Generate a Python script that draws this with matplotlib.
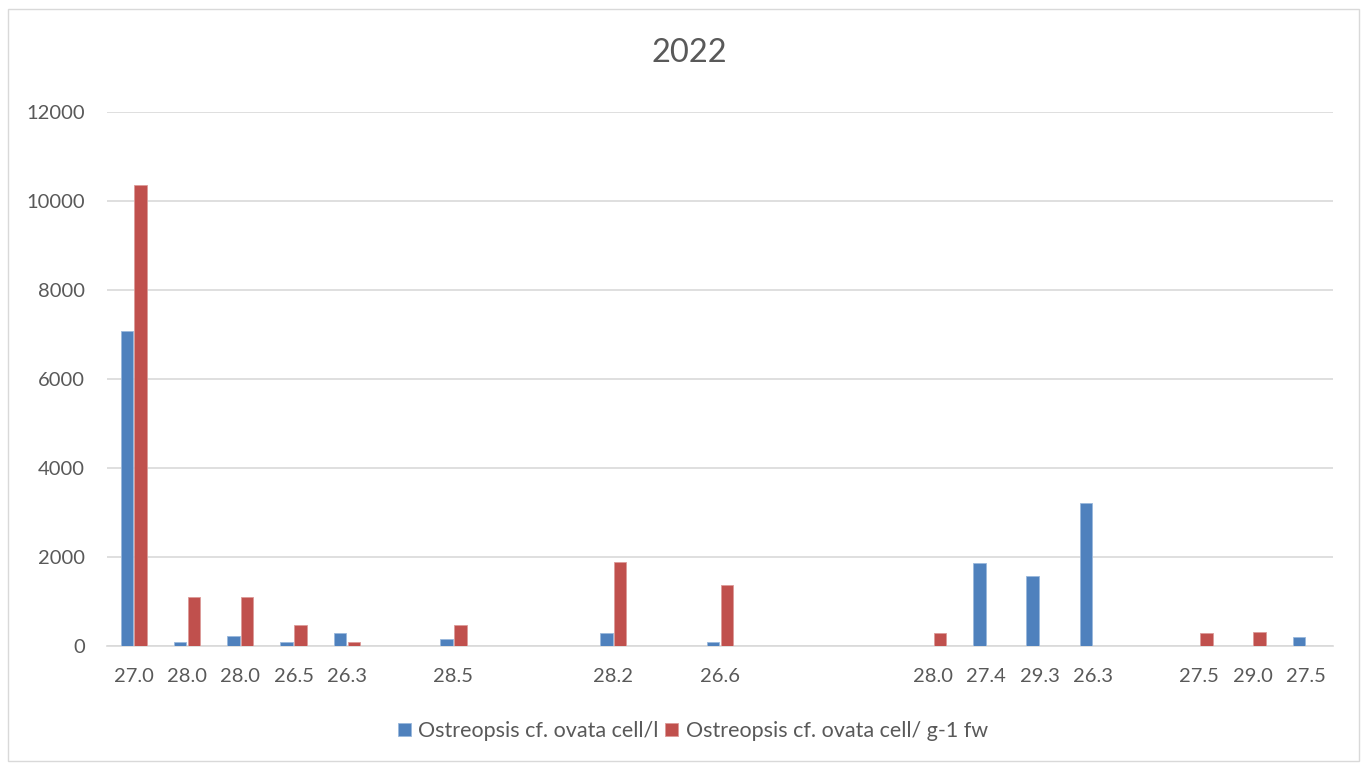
import numpy as np
import matplotlib
matplotlib.use("Agg")
import matplotlib.pyplot as plt
from matplotlib.patches import Rectangle

plt.rcParams['font.family'] = ['Lato', 'DejaVu Sans']

# categories (temperature labels); blank ones have no data
labels = ["27.0", "28.0", "28.0", "26.5", "26.3", "", "28.5", "", "", "28.2", "",
          "26.6", "", "", "", "28.0", "27.4", "29.3", "26.3", "", "27.5", "29.0", "27.5"]
cells_l = [7080, 100, 225, 100, 290, 0, 150, 0, 0, 290, 0,
           100, 0, 0, 0, 0, 1865, 1575, 3210, 0, 0, 0, 200]
cells_g = [10360, 1100, 1100, 470, 100, 0, 470, 0, 0, 1890, 0,
           1370, 0, 0, 0, 290, 0, 0, 0, 0, 290, 315, 0]

blue = "#4F81BD"
red = "#C0504D"
txt = "#595959"

fig = plt.figure(figsize=(13.64, 7.64), dpi=100)
ax = fig.add_axes([0.0785, 0.1545, 0.8985, 0.699])

x = np.arange(len(labels))
w = 0.235
ax.bar(x - 0.13, cells_l, w, color=blue, edgecolor="#9ab8dc", linewidth=0.6,
       label="Ostreopsis cf. ovata cell/l", zorder=3)
ax.bar(x + 0.13, cells_g, w, color=red, edgecolor="#dc9a98", linewidth=0.6,
       label="Ostreopsis cf. ovata cell/ g-1 fw", zorder=3)

ax.set_xlim(-0.5, len(labels) - 0.5)
ax.set_ylim(0, 12000)
ax.set_yticks(np.arange(0, 12001, 2000))
ax.set_xticks(x)
ax.set_xticklabels(labels)
ax.tick_params(axis="both", length=0, labelsize=14.5, colors=txt)
ax.tick_params(axis="x", pad=16)
ax.tick_params(axis="y", pad=16)
ax.grid(axis="y", color="#d9d9d9", linewidth=1.2, zorder=0)
for s in ["top", "right", "left"]:
    ax.spines[s].set_visible(False)
ax.spines["bottom"].set_color("#d9d9d9")
ax.spines["bottom"].set_linewidth(1.2)

fig.text(0.505, 0.93, "2022", ha="center", va="center", fontsize=23.5, color=txt)

fig.legend(loc="center", bbox_to_anchor=(0.508, 0.043), ncol=2, frameon=False,
           fontsize=15.5, handlelength=0.6, handleheight=0.6, handletextpad=0.35,
           columnspacing=0.3, labelcolor=txt)

fig.patches.append(Rectangle((0.006, 0.004), 0.99, 0.984, transform=fig.transFigure,
                             fill=False, edgecolor="#d9d9d9", linewidth=1))

fig.savefig("out.png", dpi=100, facecolor="white")
